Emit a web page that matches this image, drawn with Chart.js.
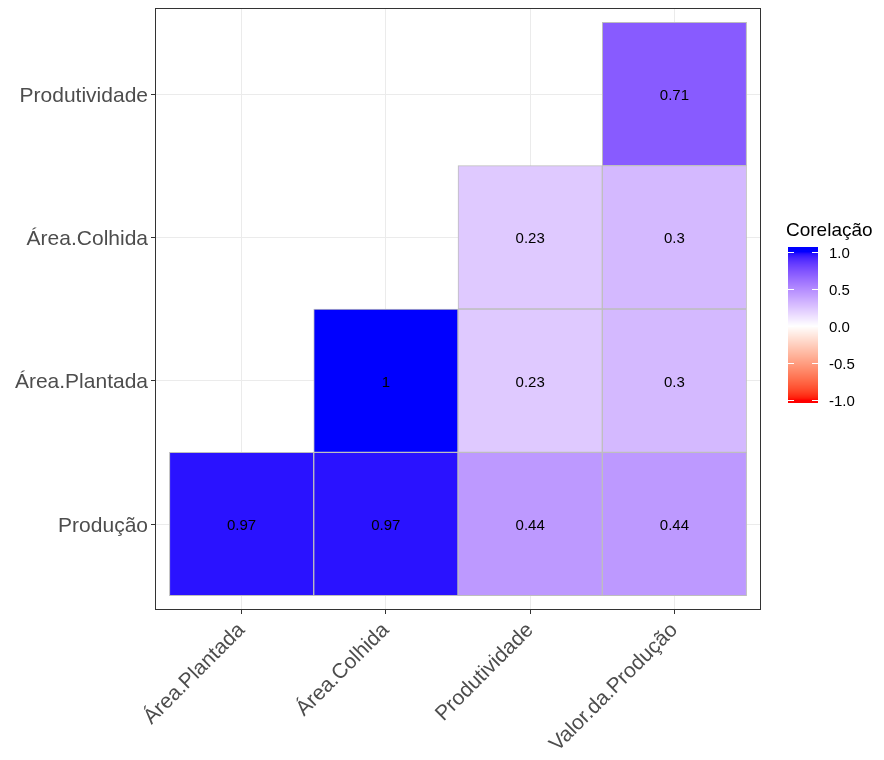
<!DOCTYPE html>
<html>
<head>
<meta charset="utf-8">
<script src="https://cdn.jsdelivr.net/npm/chart.js@4.4.0/dist/chart.umd.min.js"></script>
<style>
  html, body { margin: 0; padding: 0; background: #fff; }
</style>
</head>
<body>
<canvas id="heatmap" width="884" height="760"></canvas>
<script>
// Categorias (eixo x e eixo y, de baixo para cima)
const colunas = ["Área.Plantada", "Área.Colhida", "Produtividade", "Valor.da.Produção"];
const linhas = ["Produção", "Área.Plantada", "Área.Colhida", "Produtividade"];

// Correlações por linha (null = célula vazia)
const corProducao = [0.97, 0.97, 0.44, 0.44];
const corAreaPlantada = [null, 1, 0.23, 0.3];
const corAreaColhida = [null, null, 0.23, 0.3];
const corProdutividade = [null, null, null, 0.71];

// Legenda
const legendaTitulo = "Corelação";
const legendaTicks = [1.0, 0.5, 0.0, -0.5, -1.0];

const matriz = [corProducao, corAreaPlantada, corAreaColhida, corProdutividade];

// --- cores: gradiente vermelho-branco-azul interpolado em Lab (como ggplot) ---
function toLab(rgb) {
    const lin = c => { c /= 255; return c <= 0.04045 ? c / 12.92 : Math.pow((c + 0.055) / 1.055, 2.4); };
    const R = lin(rgb[0]), G = lin(rgb[1]), B = lin(rgb[2]);
    const X = (0.4124 * R + 0.3576 * G + 0.1805 * B) / 0.95047;
    const Y = (0.2126 * R + 0.7152 * G + 0.0722 * B) / 1.0;
    const Z = (0.0193 * R + 0.1192 * G + 0.9505 * B) / 1.08883;
    const f = t => t > 0.008856 ? Math.cbrt(t) : 7.787 * t + 16 / 116;
    const fx = f(X), fy = f(Y), fz = f(Z);
    return [116 * fy - 16, 500 * (fx - fy), 200 * (fy - fz)];
}
function fromLab(lab) {
    const fy = (lab[0] + 16) / 116, fx = fy + lab[1] / 500, fz = fy - lab[2] / 200;
    const finv = t => t > 0.206893 ? t * t * t : (t - 16 / 116) / 7.787;
    const X = finv(fx) * 0.95047, Y = finv(fy), Z = finv(fz) * 1.08883;
    let R = 3.2406 * X - 1.5372 * Y - 0.4986 * Z;
    let G = -0.9689 * X + 1.8758 * Y + 0.0415 * Z;
    let B = 0.0557 * X - 0.2040 * Y + 1.0570 * Z;
    const gam = c => { c = c <= 0.0031308 ? 12.92 * c : 1.055 * Math.pow(c, 1 / 2.4) - 0.055; return Math.round(Math.min(1, Math.max(0, c)) * 255); };
    return "rgb(" + gam(R) + "," + gam(G) + "," + gam(B) + ")";
}
const labVermelho = toLab([255, 0, 0]), labBranco = toLab([255, 255, 255]), labAzul = toLab([0, 0, 255]);
function corPara(v) {
    v = Math.max(-1, Math.min(1, v));
    const a = labBranco;
    const b = v < 0 ? labVermelho : labAzul;
    const t = Math.abs(v);
    return fromLab([a[0] + (b[0] - a[0]) * t, a[1] + (b[1] - a[1]) * t, a[2] + (b[2] - a[2]) * t]);
}

// Construímos os pontos (barras flutuantes, uma por célula)
const pontos = [];
matriz.forEach((linha, i) => {
    linha.forEach((v, j) => {
        if (v !== null) pontos.push({ x: j, y: [i - 0.5, i + 0.5], v: v });
    });
});

// Rótulos dentro das células
const rotulosPlugin = {
    id: "rotulos",
    afterDatasetsDraw(chart) {
        const ctx = chart.ctx;
        const meta = chart.getDatasetMeta(0);
        ctx.save();
        ctx.font = "15px 'Liberation Sans', Arial, sans-serif";
        ctx.fillStyle = "#000";
        ctx.textAlign = "center";
        ctx.textBaseline = "middle";
        meta.data.forEach((bar, k) => {
            const c = bar.getCenterPoint();
            ctx.fillText(String(pontos[k].v), c.x, c.y + 2);
        });
        ctx.restore();
    }
};

// Borda do painel + legenda de cores
const painelPlugin = {
    id: "painel",
    afterDraw(chart) {
        const ctx = chart.ctx;
        const a = chart.chartArea;
        ctx.save();
        ctx.strokeStyle = "#333333";
        ctx.lineWidth = 1;
        ctx.strokeRect(Math.round(a.left) + 0.5, Math.round(a.top) + 0.5, Math.round(a.right - a.left) - 1, Math.round(a.bottom - a.top) - 1);

        // legenda
        const bx = 788, bw = 30, top = 247, bottom = 403, y0 = 326, esc = 74;
        for (let y = top; y < bottom; y++) {
            ctx.fillStyle = corPara((y0 - (y + 0.5)) / esc);
            ctx.fillRect(bx, y, bw, 1);
        }
        ctx.strokeStyle = "#ffffff";
        ctx.lineWidth = 1;
        ctx.font = "15px 'Liberation Sans', Arial, sans-serif";
        ctx.fillStyle = "#000";
        ctx.textAlign = "left";
        ctx.textBaseline = "middle";
        legendaTicks.forEach(t => {
            const y = Math.round(y0 - t * esc) + 0.5;
            ctx.beginPath();
            ctx.moveTo(bx, y); ctx.lineTo(bx + 6, y);
            ctx.moveTo(bx + bw - 6, y); ctx.lineTo(bx + bw, y);
            ctx.stroke();
            ctx.fillText(t.toFixed(1), 829, y + 1);
        });
        ctx.font = "19px 'Liberation Sans', Arial, sans-serif";
        ctx.textBaseline = "alphabetic";
        ctx.fillText(legendaTitulo, 786, 236);
        ctx.restore();
    }
};

const ctx = document.getElementById("heatmap").getContext("2d");
new Chart(ctx, {
    type: "bar",
    data: {
        datasets: [{
            data: pontos,
            backgroundColor: c => c.raw ? corPara(c.raw.v) : "#fff",
            borderColor: "#BEBEBE",
            borderWidth: 1,
            borderSkipped: false,
            barPercentage: 1,
            categoryPercentage: 1
        }]
    },
    options: {
        responsive: false,
        animation: false,
        layout: { padding: { left: 0, top: 8, right: 123, bottom: 0 } },
        plugins: {
            legend: { display: false },
            tooltip: { enabled: false }
        },
        scales: {
            x: {
                type: "linear",
                min: -0.6,
                max: 3.6,
                offset: false,
                bounds: "data",
                afterBuildTicks: s => { s.ticks = colunas.map((_, i) => ({ value: i })); },
                afterFit: s => { s.height = 150; s.paddingLeft = 0; s.paddingRight = 0; },
                grid: { color: "#EBEBEB", tickColor: "#333333", tickLength: 4, offset: false },
                border: { display: false },
                ticks: {
                    callback: v => colunas[v],
                    autoSkip: false,
                    maxRotation: 45,
                    minRotation: 45,
                    padding: 4,
                    color: "#4D4D4D",
                    font: { family: "'Liberation Sans', Arial, sans-serif", size: 21 }
                }
            },
            y: {
                type: "linear",
                min: -0.6,
                max: 3.6,
                offset: false,
                bounds: "data",
                afterBuildTicks: s => { s.ticks = linhas.map((_, i) => ({ value: i })); },
                afterFit: s => { s.width = 155; s.paddingTop = 0; s.paddingBottom = 0; },
                grid: { color: "#EBEBEB", tickColor: "#333333", tickLength: 4, offset: false },
                border: { display: false },
                ticks: {
                    callback: v => linhas[v],
                    autoSkip: false,
                    padding: 3,
                    labelOffset: 2,
                    color: "#4D4D4D",
                    font: { family: "'Liberation Sans', Arial, sans-serif", size: 21 }
                }
            }
        }
    },
    plugins: [rotulosPlugin, painelPlugin]
});
</script>
</body>
</html>
